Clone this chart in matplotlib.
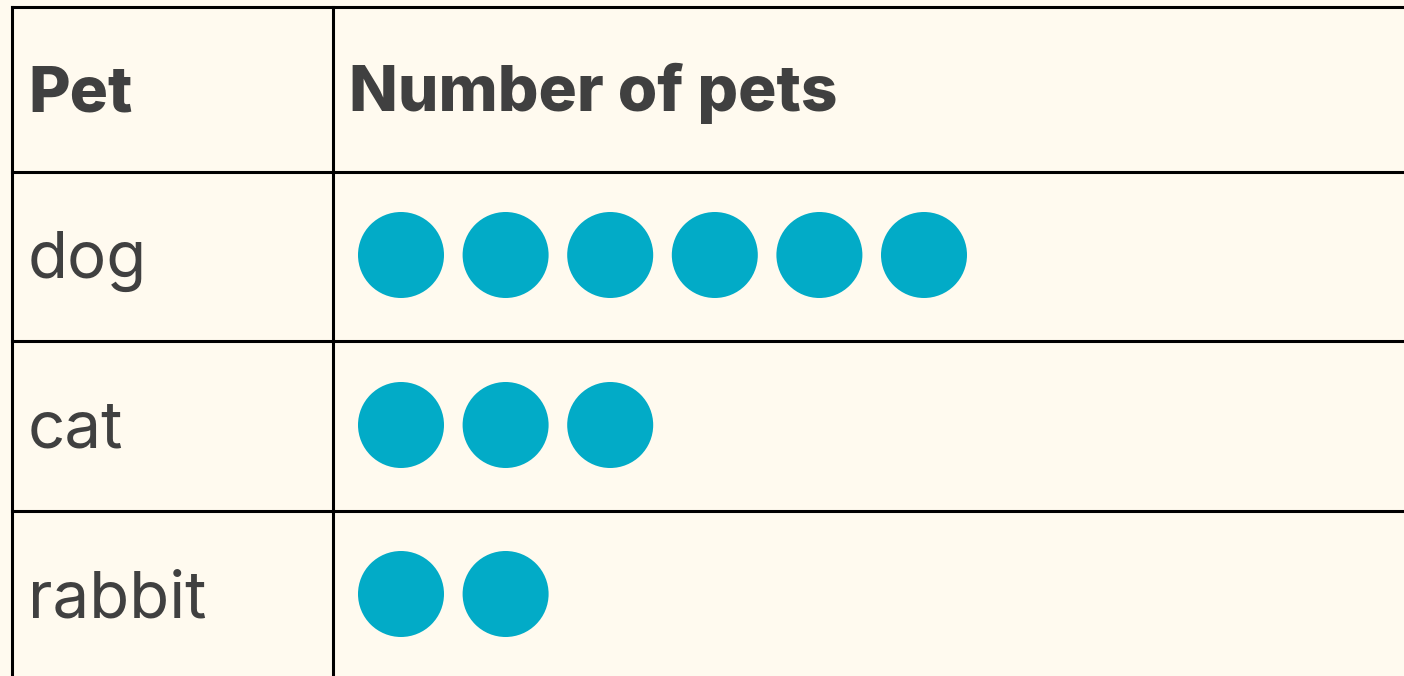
import matplotlib.pyplot as plt
from matplotlib.patches import Circle

# datos de la tabla
pets = ['dog', 'cat', 'rabbit']
counts = [6, 3, 2]
headers = ['Pet', 'Number of pets']

bg = '#FFFAEF'
dot = '#02ABC7'
txt = '#404040'

fig = plt.figure(figsize=(14.04, 6.76), dpi=100)
fig.patch.set_facecolor(bg)
ax = fig.add_axes([0, 0, 1, 1])
ax.set_xlim(0, 1404)
ax.set_ylim(676, 0)
ax.axis('off')

# líneas de la tabla (píxeles)
left, col, top = 12, 333, 7
rows_y = [172, 341, 511]
ax.plot([left, left], [top, 676], color='black', lw=2.2)
ax.plot([col, col], [top, 676], color='black', lw=2.2)
ax.plot([left, 1404], [top, top], color='black', lw=2.2)
for y in rows_y:
    ax.plot([left, 1404], [y, y], color='black', lw=2.2)

font = 'Inter'
ax.text(28, 111, headers[0], fontsize=46, fontweight='heavy', color=txt,
        va='baseline', ha='left', family=font)
ax.text(349, 111, headers[1], fontsize=46, fontweight='heavy', color=txt,
        va='baseline', ha='left', family=font)

centers_y = [255, 425, 594]
for pet, n, cy in zip(pets, counts, centers_y):
    ax.text(28, cy + 23, pet, fontsize=47, color=txt, va='baseline', ha='left', family=font)
    for i in range(n):
        ax.add_patch(Circle((401 + i * 104.6, cy), 43, color=dot, lw=0))

fig.savefig('out.png', dpi=100, facecolor=bg)
